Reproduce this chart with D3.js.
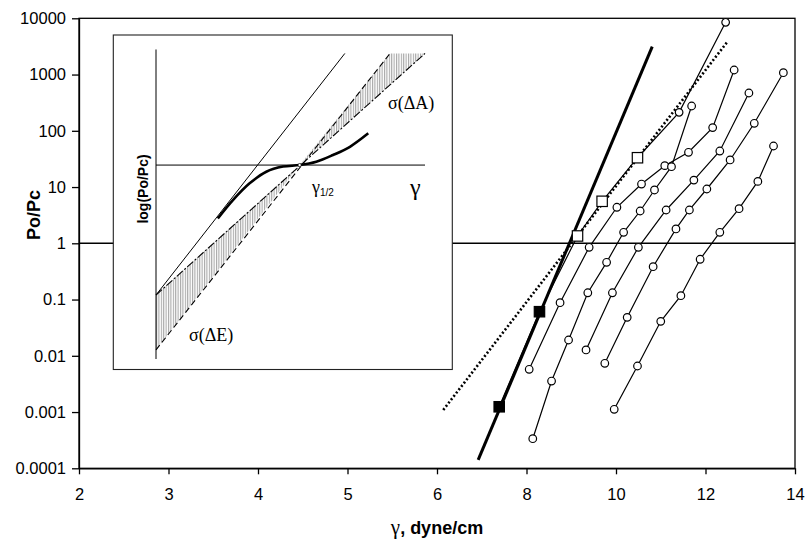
<!DOCTYPE html>
<html>
<head>
<meta charset="utf-8">
<script src="https://cdn.jsdelivr.net/npm/d3@7"></script>
<style>
  body { margin: 0; background: #fff; }
  svg { display: block; }
</style>
</head>
<body>
<div id="chart"></div>
<script>
// main axes
var xTicks = [2, 3, 4, 5, 6, 8, 10, 12, 14];
var yTicks = [1e-4, 1e-3, 0.01, 0.1, 1, 10, 100, 1000, 10000];
var yTickLabels = ["0.0001", "0.001", "0.01", "0.1", "1", "10", "100", "1000", "10000"];

// squares series (filled, open, then circles)
var sqX = [7.39, 8.29, 9.14, 9.69, 10.48, 11.41, 12.45];
var sqY = [0.00124, 0.0608, 1.35, 5.58, 33.2, 213, 8490];
var sqMark = ["filled", "filled", "open", "open", "open", "circle", "circle"];

// circle series
var bX = [8.06, 8.75, 9.40, 10.02, 10.57, 11.09, 11.62, 12.16, 12.64];
var bY = [0.00575, 0.0879, 0.849, 4.37, 11.3, 24.0, 41.5, 114, 1205];
var cX = [8.14, 8.56, 8.94, 9.37, 9.79, 10.17, 10.54, 10.86, 11.24, 11.69];
var cY = [0.000336, 0.00356, 0.0191, 0.132, 0.459, 1.57, 3.75, 8.87, 23.0, 276];
var dX = [9.33, 9.92, 10.50, 11.12, 11.74, 12.32, 12.97];
var dY = [0.0127, 0.132, 0.849, 3.91, 13.3, 43.7, 470];
var eX = [9.75, 10.25, 10.83, 11.34, 11.64, 12.03, 12.55, 13.09, 13.74];
var eY = [0.00736, 0.0483, 0.384, 1.80, 3.91, 9.23, 30.3, 136, 1079];
var fX = [9.96, 10.48, 11.00, 11.45, 11.88, 12.32, 12.75, 13.17, 13.52];
var fY = [0.00112, 0.00659, 0.0410, 0.117, 0.520, 1.57, 4.12, 12.6, 53.7];

// straight fits
var thickX = [6.92, 10.81];
var thickY = [0.000141, 3126];
var dotX = [6.14, 12.49];
var dotY = [0.00109, 3836];

// inset (arbitrary units 0..10)
var thinU = [0, 7.02], thinV = [2.0, 9.92];
var dashDotU = [0, 10], dashDotV = [2.0, 9.92];
var dashedU = [0, 8.70], dashedV = [0.2, 9.92];
var curveU = [2.30, 2.86, 3.48, 4.10, 4.72, 5.34, 5.96, 6.58, 7.21, 7.89];
var curveV = [4.51, 5.11, 5.66, 6.04, 6.21, 6.26, 6.37, 6.59, 6.86, 7.30];
var levelV = 6.26, halfU = 5.34;

var width = 807, height = 544;
var svg = d3.select("#chart").append("svg")
  .attr("width", width)
  .attr("height", height);

var x = d3.scaleLinear().domain([2, 6, 14]).range([79, 437, 795]);
var y = d3.scaleLog().domain([1e-4, 1e4]).range([468.3, 18.3]);

var font = "'Liberation Sans', Arial, sans-serif";
var serif = "'Liberation Serif', 'Times New Roman', serif";

// frame
svg.append("rect")
  .attr("x", 79).attr("y", 18.3)
  .attr("width", 795 - 79).attr("height", 468.3 - 18.3)
  .attr("fill", "none").attr("stroke", "#000").attr("stroke-width", 1.3);

// y = 1 line
svg.append("line")
  .attr("x1", x(2)).attr("x2", x(14))
  .attr("y1", y(1)).attr("y2", y(1))
  .attr("stroke", "#000").attr("stroke-width", 1.6);

var xAxis = svg.append("g")
  .attr("transform", "translate(0," + y(1e-4) + ")")
  .call(d3.axisBottom(x).tickValues(xTicks).tickSize(6).tickSizeOuter(0).tickPadding(14).tickFormat(d3.format("d")));
var yAxis = svg.append("g")
  .attr("transform", "translate(" + x(2) + ",0)")
  .call(d3.axisLeft(y).tickValues(yTicks).tickSize(7).tickSizeOuter(0).tickPadding(6)
    .tickFormat(function(d, i) { return yTickLabels[i]; }));

[xAxis, yAxis].forEach(function(a) {
  a.selectAll("path").attr("stroke", "#000").attr("stroke-width", 1.3);
  a.selectAll("line").attr("stroke", "#000").attr("stroke-width", 1.3);
  a.selectAll("text").attr("fill", "#000").style("font-family", font).style("font-size", "16.5px");
});

svg.append("text")
  .attr("transform", "translate(40,215) rotate(-90)")
  .attr("text-anchor", "middle")
  .style("font-family", font).style("font-size", "18px").style("font-weight", "bold")
  .text("Po/Pc");

var xt = svg.append("text")
  .attr("x", 437).attr("y", 534)
  .attr("text-anchor", "middle")
  .style("font-family", font).style("font-size", "18px").style("font-weight", "bold");
xt.append("tspan").style("font-family", serif).style("font-weight", "normal").style("font-size", "21px").text("γ");
xt.append("tspan").text(", dyne/cm");

// ---- inset ----
var ix = d3.scaleLinear().domain([0, 10]).range([156, 425]);
var iy = d3.scaleLinear().domain([0, 10]).range([356, 51]);
var inset = svg.append("g");

inset.append("rect")
  .attr("x", 113.3).attr("y", 35)
  .attr("width", 452.3 - 113.3).attr("height", 369.5 - 35)
  .attr("fill", "#fff").attr("stroke", "#222").attr("stroke-width", 1.1);

var defs = svg.append("defs");
var pat = defs.append("pattern")
  .attr("id", "hatch").attr("patternUnits", "userSpaceOnUse")
  .attr("width", 2.4).attr("height", 10);
pat.append("line").attr("x1", 0.6).attr("x2", 0.6).attr("y1", 0).attr("y2", 10)
  .attr("stroke", "#666").attr("stroke-width", 0.7);

var hatchLeft = [[0, dashDotV[0]], [halfU, levelV], [0, dashedV[0]]];
var hatchRight = [[halfU, levelV], [dashedU[1], dashedV[1]], [dashDotU[1], dashDotV[1]]];
[hatchLeft, hatchRight].forEach(function(poly) {
  inset.append("polygon")
    .attr("points", poly.map(function(p) { return ix(p[0]) + "," + iy(p[1]); }).join(" "))
    .attr("fill", "url(#hatch)");
});

var iline = d3.line().x(function(d) { return ix(d[0]); }).y(function(d) { return iy(d[1]); });

inset.append("line")
  .attr("x1", ix(0)).attr("x2", ix(0)).attr("y1", iy(10.05)).attr("y2", 359)
  .attr("stroke", "#000").attr("stroke-width", 1);
inset.append("line")
  .attr("x1", ix(0)).attr("x2", ix(10)).attr("y1", iy(levelV)).attr("y2", iy(levelV))
  .attr("stroke", "#000").attr("stroke-width", 1);

inset.append("path").datum(d3.zip(thinU, thinV)).attr("d", iline)
  .attr("fill", "none").attr("stroke", "#000").attr("stroke-width", 1);
inset.append("path").datum(d3.zip(dashDotU, dashDotV)).attr("d", iline)
  .attr("fill", "none").attr("stroke", "#000").attr("stroke-width", 1.1)
  .attr("stroke-dasharray", "8,2,2,2");
inset.append("path").datum(d3.zip(dashedU, dashedV)).attr("d", iline)
  .attr("fill", "none").attr("stroke", "#000").attr("stroke-width", 1.1)
  .attr("stroke-dasharray", "6,3.5");
inset.append("path").datum(d3.zip(curveU, curveV)).attr("d", iline.curve(d3.curveCatmullRom))
  .attr("fill", "none").attr("stroke", "#000").attr("stroke-width", 2.6);
iline.curve(d3.curveLinear);

inset.append("circle").attr("cx", ix(halfU)).attr("cy", iy(levelV)).attr("r", 1.6)
  .attr("fill", "#fff").attr("stroke", "#000").attr("stroke-width", 0.6);

inset.append("text")
  .attr("transform", "translate(148,189) rotate(-90)")
  .attr("text-anchor", "middle")
  .style("font-family", font).style("font-size", "14px").style("font-weight", "bold")
  .text("log(Po/Pc)");

inset.append("text").attr("x", 388).attr("y", 109)
  .style("font-family", serif).style("font-size", "18px").text("σ(ΔA)");
inset.append("text").attr("x", 189).attr("y", 341)
  .style("font-family", serif).style("font-size", "18px").text("σ(ΔE)");
var gh = inset.append("text").attr("x", 312).attr("y", 193)
  .style("font-family", serif).style("font-size", "18px");
gh.append("tspan").text("γ");
gh.append("tspan").attr("dy", 3).style("font-family", font).style("font-size", "10px").text("1/2");
inset.append("text").attr("x", 410).attr("y", 195)
  .style("font-family", serif).style("font-size", "24px").text("γ");

// ---- main data ----
var line = d3.line().x(function(d) { return x(d[0]); }).y(function(d) { return y(d[1]); });

svg.append("path").datum(d3.zip(dotX, dotY)).attr("d", line)
  .attr("fill", "none").attr("stroke", "#000").attr("stroke-width", 2.6)
  .attr("stroke-dasharray", "2,2.2");
svg.append("path").datum(d3.zip(thickX, thickY)).attr("d", line)
  .attr("fill", "none").attr("stroke", "#000").attr("stroke-width", 3);

var circleSeries = [[bX, bY], [cX, cY], [dX, dY], [eX, eY], [fX, fY]];
circleSeries.forEach(function(s) {
  var pts = d3.zip(s[0], s[1]);
  svg.append("path").datum(pts).attr("d", line)
    .attr("fill", "none").attr("stroke", "#000").attr("stroke-width", 1.2);
});

var sqPts = d3.zip(sqX, sqY, sqMark);
svg.append("path").datum(sqPts).attr("d", line)
  .attr("fill", "none").attr("stroke", "#000").attr("stroke-width", 1.2);

circleSeries.forEach(function(s) {
  svg.append("g").selectAll("circle")
    .data(d3.zip(s[0], s[1]))
    .enter().append("circle")
      .attr("cx", function(d) { return x(d[0]); })
      .attr("cy", function(d) { return y(d[1]); })
      .attr("r", 3.8)
      .attr("fill", "#fff").attr("stroke", "#000").attr("stroke-width", 1.2);
});

var sqNode = svg.append("g").selectAll("g")
  .data(sqPts)
  .enter().append("g")
    .attr("transform", function(d) { return "translate(" + x(d[0]) + "," + y(d[1]) + ")"; });
sqNode.filter(function(d) { return d[2] === "circle"; }).append("circle")
  .attr("r", 3.8).attr("fill", "#fff").attr("stroke", "#000").attr("stroke-width", 1.2);
sqNode.filter(function(d) { return d[2] !== "circle"; }).append("rect")
  .attr("x", -5.2).attr("y", -5.2).attr("width", 10.4).attr("height", 10.4)
  .attr("fill", function(d) { return d[2] === "filled" ? "#000" : "#fff"; })
  .attr("stroke", "#000").attr("stroke-width", 1.2);
</script>
</body>
</html>
